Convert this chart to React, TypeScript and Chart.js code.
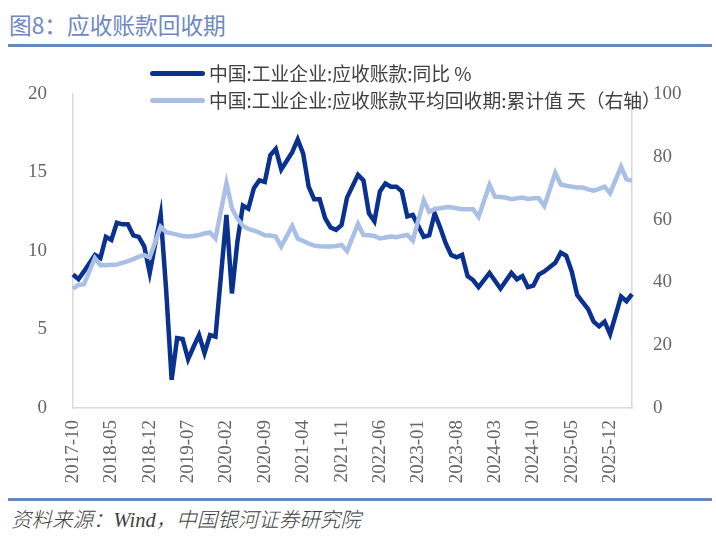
import React, { useEffect, useRef } from "react";
import { Chart, registerables } from "chart.js";

Chart.register(...registerables);

// ---- Data ----
const START_YEAR = 2017;
const START_MONTH = 10;
const MONTH_COUNT = 103; // 2017-10 .. 2026-04
const months: string[] = [];
for (let k = 0; k < MONTH_COUNT; k++) {
  const m = START_MONTH - 1 + k;
  const y = START_YEAR + Math.floor(m / 12);
  const mm = (m % 12) + 1;
  months.push(`${y}-${String(mm).padStart(2, "0")}`);
}

// 中国:工业企业:应收账款:同比 %  (January not published -> null)
const receivablesYoY: (number | null)[] = [
  8.5, 8.2, 8.7, null, 9.75, 9.55, 10.9, 10.7, 11.8, 11.7, 11.7, 11.0,
  10.9, 10.3, 8.6, null, 12.3, 7.5, 1.8, 4.45, 4.4, 3.1, 3.9, 4.65,
  3.5, 4.65, 4.55, null, 12.3, 7.3, 10.6, 12.9, 12.7, 14.0, 14.5, 14.4,
  16.1, 16.5, 15.2, null, 16.3, 17.1, 16.2, 14.1, 13.3, 13.3, 12.1, 11.5,
  11.35, 11.65, 13.4, null, 14.85, 14.5, 12.4, 11.9, 13.8, 14.3, 14.1, 14.1,
  13.8, 12.2, 12.3, null, 10.9, 11.0, 12.4, 11.5, 10.5, 9.75, 9.6, 9.75,
  8.4, 8.15, 7.7, null, 8.6, 8.1, 7.6, 8.1, 8.6, 8.2, 8.4, 7.7,
  7.8, 8.5, 8.7, null, 9.25, 9.9, 9.7, 8.7, 7.2, 6.75, 6.3, 5.5,
  5.2, 5.5, 4.7, null, 7.1, 6.8, 7.25,
];

// 中国:工业企业:应收账款平均回收期:累计值 天 (右轴)
const collectionDays: (number | null)[] = [
  38.0, 39.2, 39.4, null, 47.7, 45.5, 45.5, 45.6, 45.7, 46.2, 46.8, 47.4,
  48.2, 48.7, 48.0, null, 57.7, 56.0, 55.6, 55.2, 54.8, 54.6, 54.8, 55.1,
  55.6, 55.9, 54.0, null, 71.6, 63.6, 60.3, 58.0, 57.0, 56.5, 55.9, 55.0,
  54.9, 54.6, 51.4, null, 58.0, 54.0, 53.2, 52.4, 51.7, 51.5, 51.4, 51.4,
  51.6, 51.9, 50.0, null, 58.6, 55.1, 55.0, 54.8, 54.0, 54.3, 54.6, 54.4,
  54.8, 55.1, 53.3, null, 66.2, 62.5, 63.3, 63.6, 63.9, 63.9, 63.6, 63.3,
  63.3, 63.3, 60.9, null, 71.0, 67.3, 67.2, 67.0, 66.5, 66.8, 67.0, 66.6,
  66.8, 66.8, 64.3, null, 74.9, 71.2, 70.8, 70.5, 70.2, 70.2, 69.6, 69.2,
  69.8, 70.5, 68.4, null, 76.8, 72.8, 72.4,
];

const LABEL_EVERY = 7;
const leftTicks = [0, 5, 10, 15, 20];
const rightTicks = [0, 20, 40, 60, 80, 100];

const TITLE = "图8：应收账款回收期";
const LEGEND_1 = "中国:工业企业:应收账款:同比 %";
const LEGEND_2 = "中国:工业企业:应收账款平均回收期:累计值 天（右轴）";
const SOURCE = "资料来源：Wind，中国银河证券研究院";

const DARK = "#0B318F";
const LIGHT = "#A9BFE6";

export default function App() {
  const canvasRef = useRef<HTMLCanvasElement>(null);

  useEffect(() => {
    const canvas = canvasRef.current;
    if (!canvas) return;
    const tickFont = { family: "'Liberation Serif', 'DejaVu Serif', serif", size: 19 };
    const chart = new Chart(canvas, {
      type: "line",
      data: {
        labels: months,
        datasets: [
          {
            label: LEGEND_2,
            data: collectionDays,
            yAxisID: "y1",
            borderColor: LIGHT,
            backgroundColor: LIGHT,
            borderWidth: 4.5,
            pointRadius: 0,
            spanGaps: true,
            tension: 0,
            order: 0,
          },
          {
            label: LEGEND_1,
            data: receivablesYoY,
            yAxisID: "y",
            borderColor: DARK,
            backgroundColor: DARK,
            borderWidth: 4.5,
            pointRadius: 0,
            spanGaps: true,
            tension: 0,
            order: 1,
          },
        ],
      },
      options: {
        animation: false,
        responsive: false,
        maintainAspectRatio: false,
        layout: { padding: { top: 39, left: 0, right: 0, bottom: 0 } },
        plugins: { legend: { display: false }, tooltip: { enabled: false } },
        scales: {
          x: {
            type: "category",
            offset: false,
            grid: { display: false, drawTicks: false },
            border: { display: true, color: "#D9D9D9", width: 1.5 },
            ticks: {
              autoSkip: false,
              maxRotation: 90,
              minRotation: 90,
              padding: 12,
              color: "#666666",
              font: tickFont,
              callback: (_v: any, i: number) => (i % LABEL_EVERY === 0 ? months[i] : ""),
            },
            afterFit: (s: any) => {
              s.height = 87;
            },
          },
          y: {
            position: "left",
            min: leftTicks[0],
            max: leftTicks[leftTicks.length - 1],
            grid: { display: false, drawTicks: false },
            border: { display: true, color: "#D9D9D9", width: 1.5 },
            afterBuildTicks: (s: any) => {
              s.ticks = leftTicks.map((v) => ({ value: v }));
            },
            ticks: { padding: 26, color: "#666666", font: tickFont },
            afterFit: (s: any) => {
              s.width = 73;
            },
          },
          y1: {
            position: "right",
            min: rightTicks[0],
            max: rightTicks[rightTicks.length - 1],
            grid: { display: false, drawTicks: false },
            border: { display: true, color: "#D9D9D9", width: 1.5 },
            afterBuildTicks: (s: any) => {
              s.ticks = rightTicks.map((v) => ({ value: v }));
            },
            ticks: { padding: 21, color: "#666666", font: tickFont },
            afterFit: (s: any) => {
              s.width = 84;
            },
          },
        },
      },
    });
    return () => chart.destroy();
  }, []);

  const cjk = "'Noto Sans CJK SC', 'Noto Sans', sans-serif";
  const legendText: React.CSSProperties = {
    position: "absolute",
    left: 209,
    fontFamily: cjk,
    fontSize: 18.8,
    color: "#404040",
    whiteSpace: "nowrap",
    lineHeight: "22px",
  };
  const legendLine = (top: number, color: string): React.CSSProperties => ({
    position: "absolute",
    left: 150,
    top: top - 2.5,
    width: 55,
    height: 5,
    borderRadius: 3,
    background: color,
  });

  return (
    <div
      style={{
        position: "fixed",
        left: 0,
        top: 0,
        width: 716,
        height: 544,
        background: "#fff",
        overflow: "hidden",
      }}
    >
      <div
        style={{
          position: "absolute",
          left: 9,
          top: 10,
          fontFamily: cjk,
          fontSize: 22.7,
          lineHeight: "30px",
          color: "#7088C0",
          whiteSpace: "nowrap",
        }}
      >
        {TITLE}
      </div>
      <div style={{ position: "absolute", left: 8, top: 44, width: 704, height: 3, background: "#6A86C0" }} />
      <canvas
        ref={canvasRef}
        width={716}
        height={440}
        style={{ position: "absolute", left: 0, top: 55, width: 716, height: 440, display: "block" }}
      />
      <div style={legendLine(73, DARK)} />
      <div style={{ ...legendText, top: 62 }}>{LEGEND_1}</div>
      <div style={legendLine(100, LIGHT)} />
      <div style={{ ...legendText, top: 89 }}>{LEGEND_2}</div>
      <div style={{ position: "absolute", left: 8, top: 498, width: 704, height: 3, background: "#6A86C0" }} />
      <div
        style={{
          position: "absolute",
          left: 11,
          top: 507,
          fontFamily: "'Liberation Serif', " + cjk,
          fontStyle: "italic",
          fontWeight: 300,
          fontSize: 20.5,
          lineHeight: "26px",
          color: "#404040",
          whiteSpace: "nowrap",
        }}
      >
        {SOURCE}
      </div>
    </div>
  );
}
